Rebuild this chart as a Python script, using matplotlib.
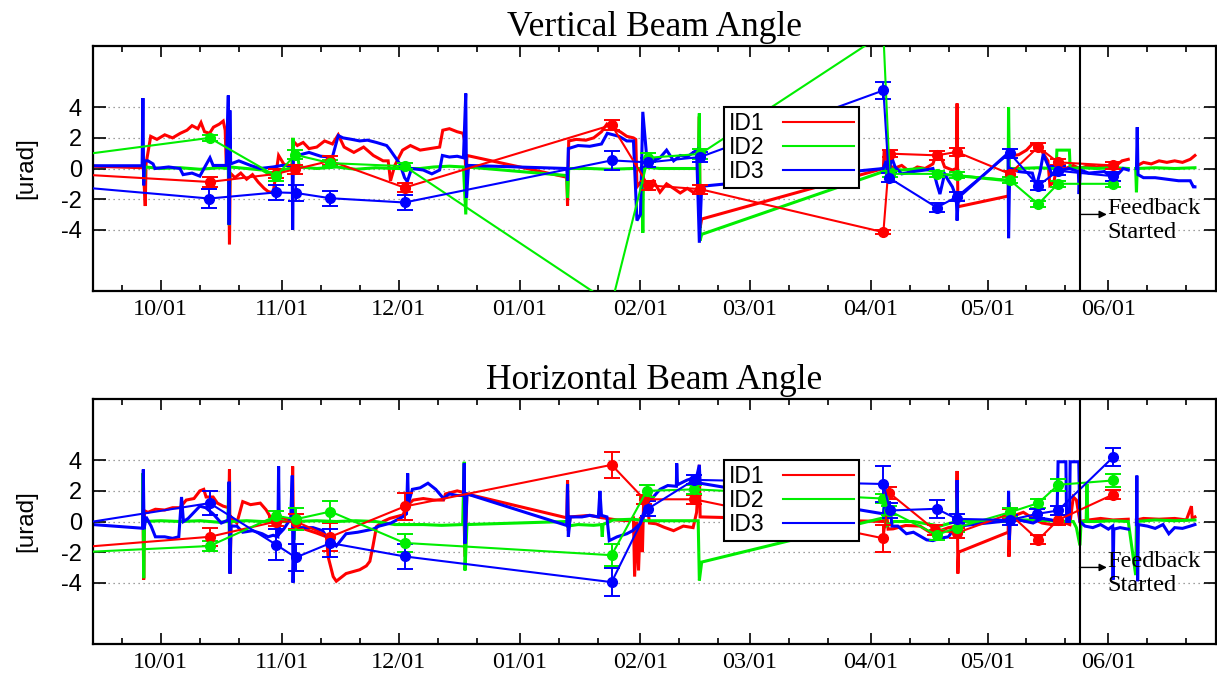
import numpy as np
import matplotlib
matplotlib.use("Agg")
import matplotlib.pyplot as plt
import matplotlib.dates as mdates
from matplotlib.lines import Line2D
from datetime import datetime

NAN = np.nan
BASE = datetime(2005, 10, 1)          # day 0 of the x data
XLIM_DAYS = (-17.4, 270.6)
FEEDBACK_DAY = 235.6

series_labels = ["ID1", "ID2", "ID3"]
series_colors = ["#ff0000", "#00ee00", "#0000ff"]

month_ticks = ["2005-10-01", "2005-11-01", "2005-12-01", "2006-01-01", "2006-02-01",
               "2006-03-01", "2006-04-01", "2006-05-01", "2006-06-01"]
month_labels = ["10/01", "11/01", "12/01", "01/01", "02/01", "03/01", "04/01", "05/01", "06/01"]
y_ticks = [-4, -2, 0, 2, 4]

# ---------------- Vertical beam angle: continuous traces (day, urad) ----------------
top_id1_trace = [(-17.4, 0.15), (-4.5, 0.05), (-4.0, -2.45), (-3.8, 0.3), (-2.6, 2.1), (-1.0, 1.9), (1.0, 2.2),
    (3.0, 2.0), (5.0, 2.3), (6.7, 2.5), (8.0, 2.8), (9.5, 2.6), (10.3, 3.0), (11.2, 2.4), (12.5, 2.3),
    (13.5, 2.7), (15.0, 2.9), (16.0, 3.1), (16.5, 2.5), (16.8, 0.1), (17.4, 0.2), (17.6, -4.95), (17.8, -0.3),
    (19.0, -0.6), (20.5, -0.3), (22.0, -0.7), (23.5, -0.4), (25.0, -0.9), (26.5, -1.3), (27.5, -1.5),
    (28.8, -1.6), (30.2, 0.85), (31.5, 0.3), (33.6, 0.0), (33.9, 1.8), (35.0, 1.5), (36.5, 1.7), (38.0, 1.3),
    (40.0, 1.4), (42.0, 1.8), (44.0, 1.6), (45.5, 2.2), (47.0, 1.4), (49.5, 1.05), (52.0, 1.4), (54.5, 0.85),
    (57.0, 0.5), (58.3, 0.5), (58.9, -0.8), (60.0, 0.2), (62.0, 1.2), (64.0, 1.5), (66.5, 1.2), (69.0, 1.3),
    (71.5, 1.4), (72.3, 2.5), (74.0, 2.6), (76.0, 2.4), (77.5, 2.3), (77.9, 1.8), (78.3, -1.0), (78.5, 0.85),
    (104.1, -0.57), (104.3, -2.43), (104.6, 1.8), (106.5, 1.9), (109.0, 1.85), (111.0, 2.0), (113.0, 2.4),
    (114.4, 2.9), (116.0, 2.6), (117.8, 2.4), (119.5, 2.1), (121.2, 2.0), (121.8, 1.9), (122.1, -1.2),
    (123.0, -0.9), (124.6, -1.0), (126.3, -0.8), (128.0, -1.55), (129.7, -1.0), (131.5, -1.3), (133.2, -1.6),
    (135.0, -1.3), (136.5, -1.55), (137.8, -1.4), (138.1, 3.4), (138.3, -3.86), (138.7, -3.3), (185.3, 0.0),
    (185.5, 1.2), (186.5, 0.3), (188.0, 0.0), (190.0, 0.2), (192.0, -0.2), (194.0, 0.1), (196.0, 0.0),
    (198.0, 0.3), (198.8, 0.9), (200.0, 0.8), (201.0, 0.1), (203.0, -0.1), (204.0, 0.0), (204.2, 4.25),
    (204.4, -2.5), (217.3, -1.8), (217.5, 1.0), (218.5, 0.85), (220.0, 0.9), (222.0, 1.2), (223.5, 1.6),
    (225.0, 1.5), (226.5, 0.9), (227.5, 0.5), (228.0, -1.1), (229.0, -0.9), (230.0, 0.4), (232.0, 0.0),
    (234.0, 0.2), (235.6, 0.0), (238.0, 0.2), (240.0, 0.1), (242.0, 0.2), (244.5, 0.1), (246.5, 0.5),
    (248.1, 0.6), (249.0, NAN), (250.5, 0.2), (252.0, 0.4), (254.0, 0.3), (256.0, 0.5), (258.0, 0.4),
    (260.0, 0.5), (262.0, 0.4), (264.0, 0.6), (265.2, 0.85)]

top_id2_trace = [(-4.5, 0.2), (-4.3, -0.8), (-4.0, 0.1), (0.0, 0.0), (5.0, 0.05), (10.0, -0.05), (15.0, 0.05),
    (17.3, 0.0), (17.5, -3.7), (17.7, 0.1), (22.0, 0.0), (26.0, -0.1), (28.0, -0.4), (29.5, -0.5), (30.5, -0.1),
    (33.7, 0.0), (33.9, 2.0), (34.1, 0.9), (35.0, 1.0), (35.5, 0.1), (40.0, 0.0), (45.0, 0.1), (50.0, -0.05),
    (55.0, 0.05), (60.0, 0.0), (66.5, 0.0), (70.0, 0.1), (74.0, 0.15), (77.6, 0.1), (78.2, -3.0), (78.5, 0.1),
    (104.1, -0.46), (104.3, -1.9), (104.6, 0.0), (110.0, 0.0), (115.0, -0.05), (121.0, 0.0), (123.4, 0.0),
    (123.6, -4.2), (123.8, 0.1), (128.0, 0.0), (133.0, 0.0), (137.8, 0.0), (138.1, 3.6), (138.3, -4.7),
    (138.7, -4.3), (185.3, -0.2), (186.0, 0.0), (190.0, -0.1), (195.0, 0.0), (198.5, -0.2), (201.0, -0.4),
    (204.1, -0.46), (217.3, -0.8), (217.4, 4.0), (217.6, 0.0), (220.0, 0.0), (225.0, 0.05), (228.4, 0.0),
    (229.6, 0.0), (229.8, 1.2), (233.0, 1.2), (233.2, 0.0), (236.0, 0.05), (240.0, 0.0), (244.0, 0.05),
    (248.1, 0.0), (249.0, NAN), (250.0, 0.0), (250.2, -1.55), (250.4, 0.0), (255.0, 0.05), (260.0, 0.0),
    (265.2, 0.05)]

top_id3_trace = [(-17.4, 0.18), (-4.8, 0.18), (-4.6, 4.6), (-4.4, -1.1), (-4.2, 0.5), (-3.3, 0.5), (-2.0, 0.3),
    (-1.5, 0.0), (2.0, 0.1), (4.9, 0.0), (5.7, -0.4), (8.0, -0.3), (10.0, -0.5), (11.5, 0.2), (12.6, 0.7),
    (13.4, 0.2), (16.8, 0.2), (17.3, 4.77), (17.5, -3.67), (17.7, 3.8), (17.9, 0.3), (20.0, 0.5), (23.0, 0.2),
    (25.4, 0.0), (28.8, 0.1), (31.0, 0.2), (33.7, 0.2), (33.8, -4.0), (34.0, 0.8), (35.0, 0.85), (38.0, 1.05),
    (41.0, 0.8), (44.0, 0.75), (45.5, 2.15), (46.7, 2.0), (49.0, 1.9), (51.0, 1.8), (53.0, 1.85), (55.3, 1.7),
    (57.9, 1.5), (58.7, 1.25), (61.3, 0.3), (62.5, -0.6), (63.2, -0.85), (64.3, 0.0), (67.3, -0.1),
    (69.5, -0.35), (71.5, -0.1), (72.2, 0.85), (74.0, 0.75), (76.0, 0.8), (77.6, 0.7), (78.2, 4.9),
    (78.4, -1.9), (78.9, 0.2), (104.1, 0.0), (104.3, -0.8), (104.5, 1.3), (107.0, 1.5), (110.0, 1.45),
    (113.0, 1.6), (114.5, 2.3), (117.5, 2.1), (119.5, 1.8), (121.2, 1.8), (122.1, -3.4), (123.0, -3.0),
    (123.6, 3.7), (124.6, 0.75), (126.3, 0.5), (128.0, 0.7), (129.7, 1.2), (131.5, 0.5), (133.2, 0.85),
    (134.9, 0.75), (137.4, 1.2), (138.1, -4.85), (138.7, -1.16), (185.3, 0.0), (186.0, 0.5), (186.5, -0.6),
    (187.4, 0.75), (188.3, 0.1), (190.0, -0.35), (193.0, -0.2), (196.0, -0.1), (198.0, 0.0), (199.0, -1.0),
    (199.8, -1.67), (201.0, -0.35), (202.0, -0.8), (203.0, -1.2), (204.0, -1.9), (204.2, -3.4), (204.5, -1.9),
    (217.3, 1.0), (217.4, -4.55), (217.7, 0.0), (220.0, -0.2), (223.5, -0.3), (224.5, -1.2), (225.5, -0.2),
    (226.3, 0.95), (227.0, 0.5), (228.5, -0.35), (231.0, -0.1), (233.0, 0.0), (235.3, -0.2), (235.5, -1.67),
    (235.8, -0.1), (238.0, -0.3), (242.0, -0.2), (243.8, -0.57), (245.0, -0.5), (246.8, 0.0), (248.1, -0.1),
    (249.0, NAN), (250.2, 0.0), (250.4, 2.7), (250.6, -0.4), (252.0, -0.6), (255.0, -0.6), (258.0, -0.7),
    (261.0, -0.8), (264.0, -0.8), (264.8, -1.2), (265.2, -1.2)]

# ---------------- Vertical beam angle: periodic measurements (day, urad, error) ----------------
top_id1_points = [(-24.0, -0.34, 0.0), (12.5, -0.88, 0.35), (29.6, -0.35, 0.3), (34.4, -0.05, 0.3),
    (43.5, 0.5, 0.3), (62.5, -1.25, 0.3), (115.6, 2.84, 0.3), (125.0, -1.1, 0.3), (138.3, -1.35, 0.3),
    (185.3, -4.16, 0.15), (186.9, 0.97, 0.25), (199.0, 0.86, 0.3), (204.1, 1.08, 0.25), (217.7, -0.35, 0.2),
    (225.0, 1.4, 0.25), (230.1, 0.4, 0.2), (244.2, 0.2, 0.2)]
top_id2_points = [(-24.0, 0.78, 0.0), (12.5, 2.0, 0.2), (29.6, -0.5, 0.3), (34.4, 0.9, 0.3), (43.5, 0.35, 0.2),
    (62.5, 0.15, 0.2), (115.6, -8.85, 0.3), (125.0, 0.7, 0.3), (138.3, 0.95, 0.3), (185.3, 8.8, 0.3),
    (186.9, -0.35, 0.2), (199.0, -0.35, 0.2), (204.1, -0.45, 0.2), (217.7, -0.75, 0.2), (225.0, -2.33, 0.2),
    (230.1, -1.0, 0.2), (244.2, -1.0, 0.2)]
top_id3_points = [(-24.0, -1.15, 0.0), (12.4, -1.96, 0.6), (29.6, -1.56, 0.5), (34.7, -1.6, 0.5),
    (43.4, -1.94, 0.5), (62.5, -2.22, 0.5), (115.6, 0.53, 0.6), (125.0, 0.4, 0.3), (138.3, 0.75, 0.3),
    (185.3, 5.1, 0.55), (186.7, -0.6, 0.3), (199.0, -2.55, 0.3), (204.1, -1.85, 0.3), (217.7, 1.0, 0.3),
    (225.0, -1.12, 0.3), (230.1, -0.15, 0.3), (244.2, -0.5, 0.3)]

# ---------------- Horizontal beam angle: continuous traces ----------------
bot_id1_trace = [(-4.6, 1.6), (-4.4, -3.8), (-4.2, 0.7), (-3.3, 0.6), (-1.4, 0.8), (1.0, 0.75), (3.0, 0.9),
    (4.9, 0.9), (6.5, 1.4), (8.5, 1.5), (10.0, 2.0), (11.0, 2.1), (11.6, 1.6), (13.4, 1.6), (14.5, 1.2),
    (16.0, 1.0), (17.4, 0.9), (17.6, 3.4), (17.8, -3.4), (18.0, 0.3), (19.5, -0.1), (21.0, 1.3), (23.0, 1.1),
    (25.5, 1.2), (27.0, 0.76), (28.0, 0.33), (28.8, 0.0), (30.0, 0.2), (33.6, 0.1), (33.8, 3.6), (34.0, -0.5),
    (35.0, -0.33), (37.5, -0.55), (40.0, -0.76), (42.5, -1.0), (42.9, -2.3), (44.2, -3.6), (45.0, -3.9),
    (47.5, -3.4), (51.0, -3.15), (52.7, -2.9), (53.6, -2.6), (54.4, -1.6), (55.3, -0.33), (57.0, 0.0),
    (58.7, 0.2), (62.1, 0.43), (63.0, 1.0), (64.7, 1.4), (67.3, 1.5), (70.0, 1.4), (72.5, 1.4), (73.0, 1.8),
    (76.0, 2.0), (77.6, 1.9), (78.0, -2.3), (78.5, 1.8), (104.1, 0.24), (104.3, 2.7), (104.5, -0.6),
    (105.0, 0.3), (110.0, 0.4), (113.0, 0.25), (114.4, 0.2), (117.0, 0.1), (120.0, 0.05), (121.2, 0.2),
    (121.5, -3.6), (122.0, 0.0), (122.5, -3.2), (123.0, 0.3), (123.5, -2.0), (123.8, 1.2), (124.6, 1.5),
    (125.3, -0.1), (127.0, -0.15), (129.0, -0.37), (131.5, -0.6), (134.0, -0.3), (136.5, -0.4), (137.4, 0.6),
    (138.1, 3.7), (138.3, 0.3), (185.3, 0.0), (186.0, 1.0), (186.5, -0.5), (187.8, -0.48), (191.0, -0.26),
    (194.7, -0.3), (197.2, -0.7), (199.8, -0.6), (202.0, -0.4), (204.0, -0.3), (204.2, 3.3), (204.4, -3.4),
    (204.6, -2.0), (217.3, -0.7), (217.4, 0.93), (217.5, -2.3), (217.8, 0.2), (219.0, 0.4), (221.2, 0.6),
    (223.7, 0.2), (226.0, -0.1), (228.4, -0.2), (231.0, 0.0), (233.1, -0.2), (234.0, 1.6), (234.8, 1.4),
    (235.7, 0.0), (238.0, 0.1), (241.0, 0.2), (244.2, 0.1), (248.1, 0.15), (249.0, NAN), (250.2, 0.1),
    (252.0, 0.2), (256.0, 0.15), (260.0, 0.2), (263.0, 0.1), (264.3, 1.0), (264.5, 0.2), (265.2, 0.3)]

bot_id2_trace = [(-4.7, 0.0), (-4.6, 3.15), (-4.4, -3.7), (-4.2, 0.0), (0.0, 0.05), (5.0, 0.0), (10.0, 0.05),
    (15.0, -0.05), (17.2, 0.0), (17.4, 2.5), (17.6, -1.5), (17.8, 0.0), (22.0, 0.05), (26.0, 0.0), (30.0, 0.0),
    (33.7, 0.0), (33.9, 0.9), (34.1, -1.2), (34.3, 0.0), (40.0, 0.05), (45.0, 0.0), (50.0, 0.05), (55.0, 0.0),
    (60.0, -0.2), (64.0, -0.2), (67.3, -0.2), (72.0, -0.25), (77.4, -0.2), (77.8, 3.9), (78.0, -3.2),
    (78.5, -0.2), (104.1, 0.0), (104.3, -0.3), (107.0, -0.2), (111.0, -0.25), (113.0, -0.2), (113.2, -1.0),
    (113.4, -0.2), (116.0, 0.1), (121.0, 0.15), (124.5, 0.05), (130.0, 0.05), (137.8, 0.05), (138.1, -3.85),
    (138.7, -2.65), (185.3, 0.24), (185.6, 1.5), (186.0, -0.3), (188.0, 0.0), (193.0, 0.0), (199.8, -0.3),
    (204.0, 0.0), (204.2, 1.5), (204.4, 0.0), (217.3, 0.0), (217.5, 1.26), (217.7, 0.1), (222.0, 0.1),
    (228.0, 0.05), (234.0, 0.0), (234.8, -0.4), (235.7, -1.56), (236.0, 0.0), (237.3, 0.0), (237.5, 2.45),
    (237.7, 0.0), (240.0, 0.0), (244.0, 0.05), (248.1, 0.0), (250.0, -3.5), (250.2, 0.0), (255.0, 0.1),
    (260.0, 0.05), (265.2, 0.1)]

bot_id3_trace = [(-17.4, -0.2), (-4.7, -0.44), (-4.5, 3.4), (-4.3, -0.5), (-3.8, 0.3), (-2.5, -0.3),
    (-1.4, -1.0), (1.0, -1.0), (3.0, -1.1), (4.6, -1.0), (5.3, 1.6), (5.8, 0.0), (7.0, 0.2), (8.5, 0.6),
    (10.0, 1.0), (11.5, 0.9), (13.4, 0.5), (15.5, -0.1), (17.3, 0.1), (17.5, 2.6), (17.7, -3.4), (18.0, -0.3),
    (19.5, -0.3), (21.0, -0.7), (23.5, -0.6), (26.0, -0.8), (27.5, -1.0), (28.8, -0.9), (30.0, -1.0),
    (30.2, 3.6), (30.4, -0.8), (31.5, -0.5), (33.3, 0.2), (33.7, 3.0), (33.9, -4.0), (34.2, -0.5), (36.0, -0.4),
    (39.0, -0.4), (41.5, -0.6), (42.5, -1.0), (45.0, -1.6), (47.5, -0.8), (50.5, -0.7), (54.4, -0.5),
    (56.0, -0.3), (59.0, -0.1), (62.0, 0.3), (63.0, 0.5), (63.3, 3.15), (63.5, 1.2), (64.5, 2.1), (66.5, 2.2),
    (68.5, 2.5), (70.5, 2.1), (72.5, 1.5), (74.0, 1.8), (76.0, 1.7), (77.6, 1.7), (77.8, 3.8), (78.0, -1.45),
    (78.5, 1.8), (104.1, -0.26), (104.3, 2.45), (104.5, -1.0), (105.0, 0.3), (108.0, 0.3), (110.0, 0.4),
    (112.2, 0.3), (112.6, 2.0), (113.0, 0.4), (114.4, 0.3), (115.0, -1.25), (117.0, -1.0), (119.5, -0.8),
    (121.0, -0.6), (122.9, -0.15), (124.0, 0.7), (124.6, 1.15), (126.3, 1.6), (128.0, 2.1), (130.0, 2.35),
    (132.2, 2.3), (132.3, 3.8), (132.5, 2.4), (134.9, 2.7), (137.4, 2.9), (138.1, 3.7), (138.3, 2.5),
    (185.3, 0.5), (185.8, 1.5), (186.3, 0.5), (187.0, 1.0), (187.5, -0.3), (189.0, -0.3), (191.2, -0.8),
    (193.0, -0.7), (196.4, -1.2), (198.0, -1.25), (199.8, -1.1), (202.0, -1.0), (203.5, -0.4), (204.1, -0.6),
    (204.2, 2.7), (204.4, -0.8), (204.6, -0.3), (217.3, 0.05), (217.4, 2.0), (217.6, -1.2), (217.8, 0.0),
    (220.0, 0.1), (223.7, -0.1), (226.0, 0.2), (228.4, 0.1), (229.8, 0.0), (230.1, 3.9), (232.1, 3.9),
    (232.3, 0.0), (233.0, 0.0), (233.2, 3.9), (235.4, 3.9), (235.7, 0.0), (237.0, -0.3), (239.0, -0.4),
    (241.0, -0.2), (243.0, -0.5), (244.1, -0.3), (244.2, -3.8), (244.4, -0.5), (246.0, -0.4), (248.1, -0.5),
    (249.0, NAN), (250.2, -0.2), (250.3, 3.0), (250.5, -3.9), (250.7, -0.2), (253.0, -0.3), (255.0, -0.45),
    (257.0, -0.2), (258.5, -0.8), (260.0, -0.4), (262.0, -0.45), (264.0, -0.3), (265.2, -0.2)]

# ---------------- Horizontal beam angle: periodic measurements ----------------
bot_id1_points = [(-24.0, -1.75, 0.0), (12.5, -1.0, 0.6), (29.6, 0.0, 0.3), (34.6, 0.0, 0.5), (43.5, -1.0, 0.9),
    (62.5, 0.98, 0.85), (115.6, 3.7, 0.85), (124.0, 1.45, 0.3), (136.8, 1.45, 0.3), (185.3, -1.1, 0.87),
    (186.8, 1.87, 0.4), (198.5, -0.55, 0.3), (204.1, -0.75, 0.3), (217.7, 0.5, 0.3), (225.0, -1.2, 0.3),
    (230.1, 0.1, 0.3), (244.2, 1.76, 0.3)]
bot_id2_points = [(-24.0, -2.05, 0.0), (12.5, -1.6, 0.35), (29.6, 0.37, 0.3), (34.6, 0.15, 0.7),
    (43.5, 0.65, 0.7), (62.5, -1.4, 0.6), (115.6, -2.2, 0.7), (124.6, 2.0, 0.4), (136.8, 2.1, 0.3),
    (185.3, 1.5, 0.3), (186.8, 0.7, 0.3), (199.0, -0.88, 0.3), (204.1, -0.4, 0.3), (217.7, 0.6, 0.3),
    (225.0, 1.2, 0.3), (230.2, 2.4, 0.4), (244.2, 2.68, 0.4)]
bot_id3_points = [(-24.0, -0.27, 0.0), (12.5, 1.2, 0.8), (29.6, -1.52, 1.0), (34.6, -2.35, 0.9),
    (43.5, -1.41, 0.9), (62.5, -2.28, 0.8), (115.6, -3.96, 0.9), (124.9, 0.83, 0.5), (136.8, 2.72, 0.3),
    (185.3, 2.45, 1.2), (187.0, 0.72, 0.5), (199.0, 0.83, 0.6), (204.1, 0.17, 0.3), (217.7, 0.1, 0.3),
    (224.8, 0.5, 0.3), (230.1, 0.72, 0.3), (244.2, 4.2, 0.6)]


def to_x(days):
    return mdates.date2num(BASE) + np.asarray(days, dtype=float)


def date_x(s):
    return mdates.date2num(datetime.strptime(s, "%Y-%m-%d"))


SERIF = ["Liberation Serif", "DejaVu Serif"]
SANS = ["Liberation Sans", "DejaVu Sans"]

fig = plt.figure(figsize=(12.17, 6.83), dpi=100)
ax_top = fig.add_axes([93 / 1217, (683 - 291) / 683, 1123 / 1217, 245 / 683])
ax_bot = fig.add_axes([93 / 1217, (683 - 644) / 683, 1123 / 1217, 245 / 683])

minor_days = []
for y, m in [(2005, 9), (2005, 10), (2005, 11), (2005, 12), (2006, 1), (2006, 2), (2006, 3),
             (2006, 4), (2006, 5), (2006, 6)]:
    for d in (11, 21):
        if (y, m, d) != (2005, 9, 11):
            minor_days.append(mdates.date2num(datetime(y, m, d)))

panels = [
    (ax_top, "Vertical Beam Angle", [top_id1_trace, top_id2_trace, top_id3_trace],
     [top_id1_points, top_id2_points, top_id3_points]),
    (ax_bot, "Horizontal Beam Angle", [bot_id1_trace, bot_id2_trace, bot_id3_trace],
     [bot_id1_points, bot_id2_points, bot_id3_points]),
]

for ax, title, traces, points in panels:
    for trace, color in zip(traces, series_colors):
        d, v = zip(*trace)
        ax.plot(to_x(d), v, color=color, lw=2.2, solid_joinstyle="miter", zorder=2)
    for pts, color in zip(points, series_colors):
        d, v, e = zip(*pts)
        ax.errorbar(to_x(d), v, yerr=e, color=color, lw=1.5, elinewidth=1.4, marker="o", ms=7,
                    capsize=5.5, capthick=1.4, zorder=3)

    ax.set_xlim(to_x(XLIM_DAYS[0]), to_x(XLIM_DAYS[1]))
    ax.set_ylim(-8, 8)
    ax.set_yticks(y_ticks)
    ax.set_yticklabels([str(t) for t in y_ticks], fontfamily=SANS, fontsize=17)
    ax.set_xticks([date_x(s) for s in month_ticks], labels=month_labels, fontfamily=SERIF, fontsize=17.5)
    ax.set_xticks(minor_days, minor=True)
    ax.tick_params(axis="y", direction="in", length=9, width=1.2, left=True, right=True, pad=8)
    ax.tick_params(axis="x", which="major", direction="in", length=8, width=1.2, top=True, bottom=True, pad=6)
    ax.tick_params(axis="x", which="minor", direction="in", length=4.5, width=1.2, top=True, bottom=True)
    ax.grid(axis="y", linestyle=(0, (1, 3)), color="#808080", lw=0.9)
    for sp in ax.spines.values():
        sp.set_linewidth(1.6)

    ax.set_ylabel("[urad]", fontfamily=SANS, fontsize=17.5)
    ax.yaxis.set_label_coords(-0.05, 0.5)
    ax.set_title(title, fontfamily=SERIF, fontsize=25.5, pad=7)

    xf = to_x(FEEDBACK_DAY)
    ax.axvline(xf, color="black", lw=1.5, zorder=4)
    ax.annotate("", xy=(to_x(242.6), -3.0), xytext=(xf, -3.0),
                arrowprops=dict(arrowstyle="-|>", color="black", lw=1.0, mutation_scale=11,
                                shrinkA=0, shrinkB=0), zorder=4)
    ax.text(to_x(242.7), -2.63, "Feedback", fontfamily=SERIF, fontsize=17.5, ha="left", va="center", zorder=4)
    ax.text(to_x(242.7), -4.18, "Started", fontfamily=SERIF, fontsize=17.5, ha="left", va="center", zorder=4)

    handles = [Line2D([], [], color=c, lw=1.5) for c in series_colors]
    leg = ax.legend(handles, series_labels, loc="upper left", bbox_to_anchor=(0.5623, 0.751),
                    markerfirst=False, frameon=True, fancybox=False, edgecolor="black", framealpha=1,
                    prop={"family": SANS, "size": 16.5}, handlelength=3.1, handletextpad=0.8,
                    labelspacing=0.06, borderpad=0.2, borderaxespad=0)
    leg.get_frame().set_linewidth(1.5)
    leg.set_zorder(6)

fig.savefig("out.png", dpi=100)
